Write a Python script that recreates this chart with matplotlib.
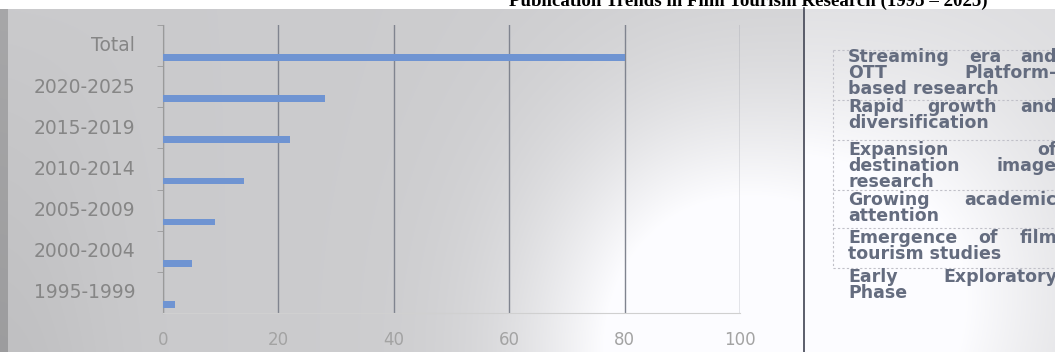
import numpy as np
import matplotlib.pyplot as plt
from matplotlib.lines import Line2D

# publication counts per period
periods = ['1995-1999', '2000-2004', '2005-2009', '2010-2014', '2015-2019', '2020-2025', 'Total']
counts = [2, 5, 9, 14, 22, 28, 80]
xticks = [0, 20, 40, 60, 80, 100]

title = 'Publication Trends in Film Tourism Research (1995 – 2025)'

# description of each phase, newest first, one entry per wrapped line
phases = [
    ['Streaming era and', 'OTT Platform-', 'based research'],
    ['Rapid growth and', 'diversification'],
    ['Expansion of', 'destination image', 'research'],
    ['Growing academic', 'attention'],
    ['Emergence of film', 'tourism studies'],
    ['Early Exploratory', 'Phase'],
]
phase_top = [57, 107, 150, 200, 238, 277]   # pixel row of first line
row_lines = [50, 100, 140, 190, 228, 268]   # dashed cell borders

W, H = 1055, 352
fig = plt.figure(figsize=(W / 100, H / 100), dpi=100)
fig.patch.set_facecolor('white')

# screen photo background: grey with a bright glare towards the lower middle
top_strip = 9
bg = fig.add_axes([0, 0, 1, 1 - top_strip / H])
gx, gy = np.meshgrid(np.linspace(0, 1, W), np.linspace(0, 1, H - top_strip))
val = 0.80 + 0.02 * gx
val += 0.28 * np.exp(-((gx - 0.68) / 0.17) ** 2 - ((gy - 1.0) / 0.65) ** 2)
val += 0.10 * np.exp(-((gx - 0.88) / 0.14) ** 2 - ((gy - 0.8) / 0.6) ** 2)
val += 0.05 * (gx > 0.763)
val -= 0.04 * np.exp(-(gx / 0.10) ** 2) * gy
val[:, :8] -= 0.14
val = np.clip(val, 0, 1)
rgb = np.dstack([val * 0.99, val * 0.99, val])
bg.imshow(rgb, aspect='auto', interpolation='bilinear')
bg.axis('off')

ax = fig.add_axes([163 / W, 1 - 313 / H, 577 / W, 288 / H])
ax.set_facecolor('none')

ypos = np.arange(len(periods))
ax.barh(ypos - 0.29, counts, height=0.16, color='#6f94d2', zorder=3)

ax.set_xlim(0, 100)
ax.set_ylim(-0.5, len(periods) - 0.5)
ax.set_xticks(xticks)
ax.set_xticklabels([str(v) for v in xticks], fontsize=12, color='#a3a3a3')
ax.tick_params(axis='x', length=0, pad=13)
ax.set_yticks(ypos + 0.04)
ax.set_yticklabels(periods, fontsize=13.5, color='#868686')
ax.tick_params(axis='y', length=0, pad=20)
ax.set_yticks(ypos + 0.5, minor=True)
ax.tick_params(axis='y', which='minor', length=4, color='#9a9a9a', direction='out')

ax.grid(axis='x', color='#80848f', linewidth=1.0, zorder=1)
for side in ['top', 'right']:
    ax.spines[side].set_visible(False)
ax.spines['left'].set_color('#9a9a9a')
ax.spines['bottom'].set_color('#d0d0d0')

# separator between chart and phase notes
fig.add_artist(Line2D([804 / W, 804 / W], [0, 1 - 8 / H], transform=fig.transFigure,
                      color='#4f5260', linewidth=1.3))

# dashed table borders behind the notes
dash = dict(transform=fig.transFigure, color='#c0c0c8', linewidth=0.8, linestyle=(0, (2, 2)))
for r in row_lines:
    fig.add_artist(Line2D([833 / W, 1], [1 - r / H, 1 - r / H], **dash))
fig.add_artist(Line2D([833 / W, 833 / W], [1 - row_lines[0] / H, 1 - row_lines[-1] / H], **dash))

# justified phase notes
left, right = 848, 1057
line_h = 16
note_kw = dict(fontsize=12.5, fontweight='bold', color='#646c7f', va='center', ha='left')
renderer = fig.canvas.get_renderer()
for lines, y0 in zip(phases, phase_top):
    for k, line in enumerate(lines):
        y = 1 - (y0 + k * line_h) / H
        words = line.split()
        if k == len(lines) - 1 or len(words) == 1:
            fig.text(left / W, y, line, **note_kw)
            continue
        texts = [fig.text(0, y, w, **note_kw) for w in words]
        widths = [t.get_window_extent(renderer).width for t in texts]
        gap = (right - left - sum(widths)) / (len(words) - 1)
        x = left
        for t, w in zip(texts, widths):
            t.set_x(x / W)
            x += w + gap

fig.text(748 / W, 1 - 6 / H, title, ha='center', va='baseline',
         fontfamily='Liberation Serif', fontweight='bold', fontsize=13.6, color='black')

fig.savefig('out.png', dpi=100)
